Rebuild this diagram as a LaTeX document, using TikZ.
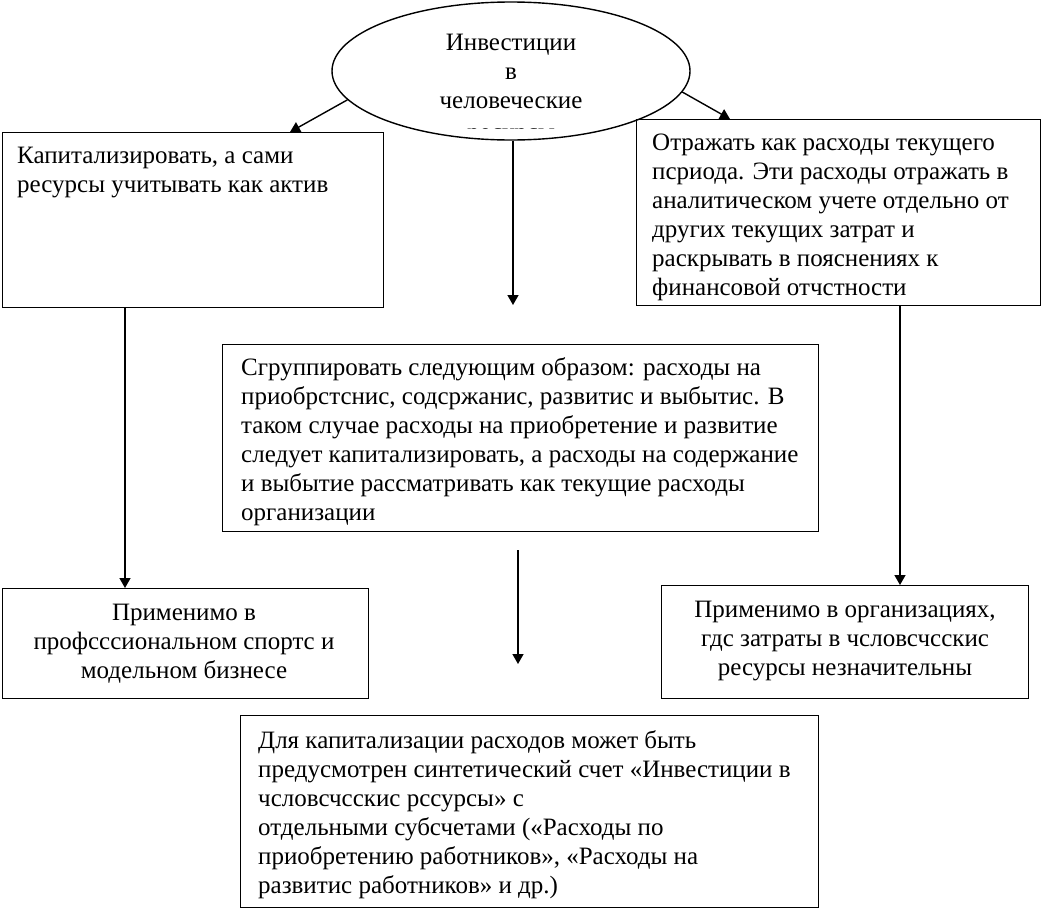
\documentclass[tikz,border=0pt]{standalone}
\usepackage{fontspec}
\setmainfont{Liberation Serif}
\usetikzlibrary{shapes.geometric,arrows.meta,calc}
\begin{document}
\begin{tikzpicture}[x=1pt,y=-1pt,
  box/.style={draw,line width=1.4pt,rectangle,inner sep=0pt,anchor=north west},
  txt/.style={inner sep=0pt,align=left,anchor=base west,font=\fontsize{25}{29}\selectfont},
  ctxt/.style={inner sep=0pt,align=center,anchor=base,font=\fontsize{25}{29}\selectfont},
  arr/.style={line width=1.4pt,-{Triangle[length=10pt,width=11pt]}}]
\useasboundingbox (0,0) rectangle (1042,910);
% ellipse
\node[draw,ellipse,line width=1.4pt,minimum width=358pt,minimum height=138pt,inner sep=0pt,fill=white] (inv) at (511,71) {};
\node[ctxt] (invT) at (511,108) {Инвестиции\\в\\человеческие};
\begin{scope}
\clip (420,0) rectangle (620,128.5);
\node[ctxt] (invR) at (511,140) {ресурсы};
\end{scope}
% boxes
\node[box,minimum width=381pt,minimum height=175pt] (cap) at (2,132) {};
\node[txt] (capT) at (17,192) {Капитализировать, а сами\\ресурсы учитывать как актив};
\node[box,minimum width=404pt,minimum height=186pt] (exp) at (636,119) {};
\node[txt] (expT) at (652,295) {Отражать как расходы текущего\\пcриода. Эти расходы отражать в\\аналитическом учете отдельно от\\других текущих затрат и\\раскрывать в пояснениях к\\финансовой отчстности};
\node[box,minimum width=596pt,minimum height=187pt] (grp) at (222,344) {};
\node[txt] (grpT) at (241,520) {Сгруппировать следующим образом: расходы на\\приобрстснис, содсржанис, развитис и выбытис. В\\таком случае расходы на приобретение и развитие\\следует капитализировать, а расходы на содержание\\и выбытие рассматривать как текущие расходы\\организации};
\node[box,minimum width=366pt,minimum height=110pt] (sport) at (2,588) {};
\node[ctxt] (sportT) at (184,678) {Применимо в\\профсссиональном спортс и\\модельном бизнесе};
\node[box,minimum width=367pt,minimum height=113pt] (org) at (661,585) {};
\node[ctxt] (orgT) at (845,675) {Применимо в организациях,\\гдс затраты в чсловсчсскис\\ресурсы незначительны};
\node[box,minimum width=578pt,minimum height=192pt] (acc) at (240,715) {};
\node[txt] (accT) at (258,893) {Для капитализации расходов может быть\\предусмотрен синтетический счет «Инвестиции в\\чсловсчсскис рссурсы» с\\отдельными субсчетами («Расходы по\\приобретению работников», «Расходы на\\развитис работников» и др.)};
% free ends
\coordinate (capIn) at (290,132);
\coordinate (expIn) at (730,119);
\coordinate (midEnd) at (513,305);
\coordinate (lowStart) at (518,550);
\coordinate (lowEnd) at (518,664);
% connectors
\draw[arr] (inv.190) -- (capIn);
\draw[arr] (inv.353) -- (expIn);
\draw[arr] (inv.south -| midEnd) -- (midEnd);
\draw[arr] (cap.south -| 125,0) -- (sport.north -| 125,0);
\draw[arr] (exp.south -| 900,0) -- (org.north -| 900,0);
\draw[arr] (lowStart) -- (lowEnd);
\end{tikzpicture}
\end{document}
